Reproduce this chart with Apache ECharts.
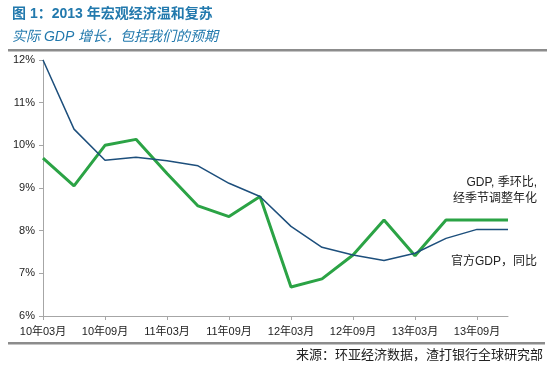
<!DOCTYPE html>
<html>
<head>
<meta charset="utf-8">
<style>
  html, body { margin: 0; padding: 0; background: #ffffff; }
  #chart { width: 547px; height: 373px; }
</style>
<script src="https://cdn.jsdelivr.net/npm/echarts@6/dist/echarts.min.js"></script>
</head>
<body>
<div id="chart"></div>
<script>
const categories = ['10年03月','10年06月','10年09月','10年12月','11年03月','11年06月','11年09月','11年12月','12年03月','12年06月','12年09月','12年12月','13年03月','13年06月','13年09月','13年12月'];
const officialYoY = [12.0, 10.38, 9.65, 9.72, 9.64, 9.52, 9.11, 8.80, 8.10, 7.61, 7.43, 7.30, 7.47, 7.82, 8.03, 8.03];
const qoqSaar = [9.70, 9.05, 10.0, 10.14, 9.34, 8.58, 8.33, 8.80, 6.68, 6.87, 7.43, 8.25, 7.41, 8.25, 8.25, 8.25];
const yTicks = [6, 7, 8, 9, 10, 11, 12];

const titleText = '图 1：2013 年宏观经济温和复苏';
const subtitleText = '实际 GDP 增长，包括我们的预期';
const sourceText = '来源：环亚经济数据，渣打银行全球研究部';
const qoqLabel = ['GDP, 季环比,', '经季节调整年化'];
const yoyLabel = '官方GDP，同比';

const FONT = '"Liberation Sans", Arial, "Noto Sans CJK SC", sans-serif';
const CJK = '"Liberation Sans", "Noto Sans CJK SC", sans-serif';

const chart = echarts.init(document.getElementById('chart'), null, { renderer: 'canvas' });
chart.setOption({
  backgroundColor: '#ffffff',
  animation: false,
  title: [
    { text: titleText, left: 7, top: 2, textStyle: { fontFamily: CJK, fontSize: 14, fontWeight: 'bold', color: '#2279ad' } },
    { text: subtitleText, left: 7, top: 25, textStyle: { fontFamily: CJK, fontSize: 14, fontWeight: 'normal', fontStyle: 'italic', color: '#2279ad' } }
  ],
  grid: { left: 43, right: 39, top: 60, bottom: 57, containLabel: false },
  xAxis: {
    type: 'category',
    data: categories,
    boundaryGap: false,
    axisLine: { show: true, lineStyle: { color: '#a6a6a6', width: 1 } },
    axisTick: { show: true, interval: 1, length: 4, lineStyle: { color: '#a6a6a6' } },
    axisLabel: { interval: 1, fontFamily: CJK, fontSize: 11, color: '#222', margin: 10 },
    splitLine: { show: false }
  },
  yAxis: {
    type: 'value',
    min: yTicks[0],
    max: yTicks[yTicks.length - 1],
    interval: 1,
    axisLine: { show: true, lineStyle: { color: '#a6a6a6', width: 1 } },
    axisTick: { show: true, length: 4, lineStyle: { color: '#a6a6a6' } },
    axisLabel: { formatter: '{value}%', fontFamily: FONT, fontSize: 11, color: '#222', margin: 8 },
    splitLine: { show: false }
  },
  series: [
    {
      name: yoyLabel, type: 'line', data: officialYoY, symbol: 'none',
      lineStyle: { color: '#1d4f7c', width: 1.5 }, z: 3
    },
    {
      name: qoqLabel.join(''), type: 'line', data: qoqSaar, symbol: 'none',
      lineStyle: { color: '#2ba345', width: 3 }, z: 2
    }
  ],
  graphic: [
    { type: 'rect', shape: { x: 8, y: 49, width: 539, height: 2.5 }, style: { fill: '#8c8c8c' } },
    { type: 'rect', shape: { x: 8, y: 342, width: 537, height: 2.5 }, style: { fill: '#8c8c8c' } },
    { type: 'text', right: 10, top: 177, style: { text: qoqLabel[0], font: '12px ' + CJK, fill: '#222', textAlign: 'right' } },
    { type: 'text', right: 10, top: 193, style: { text: qoqLabel[1], font: '12px ' + CJK, fill: '#222', textAlign: 'right' } },
    { type: 'text', right: 10, top: 256, style: { text: yoyLabel, font: '12px ' + CJK, fill: '#222', textAlign: 'right' } },
    { type: 'text', right: 4, top: 349, style: { text: sourceText, font: '13px ' + CJK, fill: '#222', textAlign: 'right' } }
  ]
});
</script>
</body>
</html>
